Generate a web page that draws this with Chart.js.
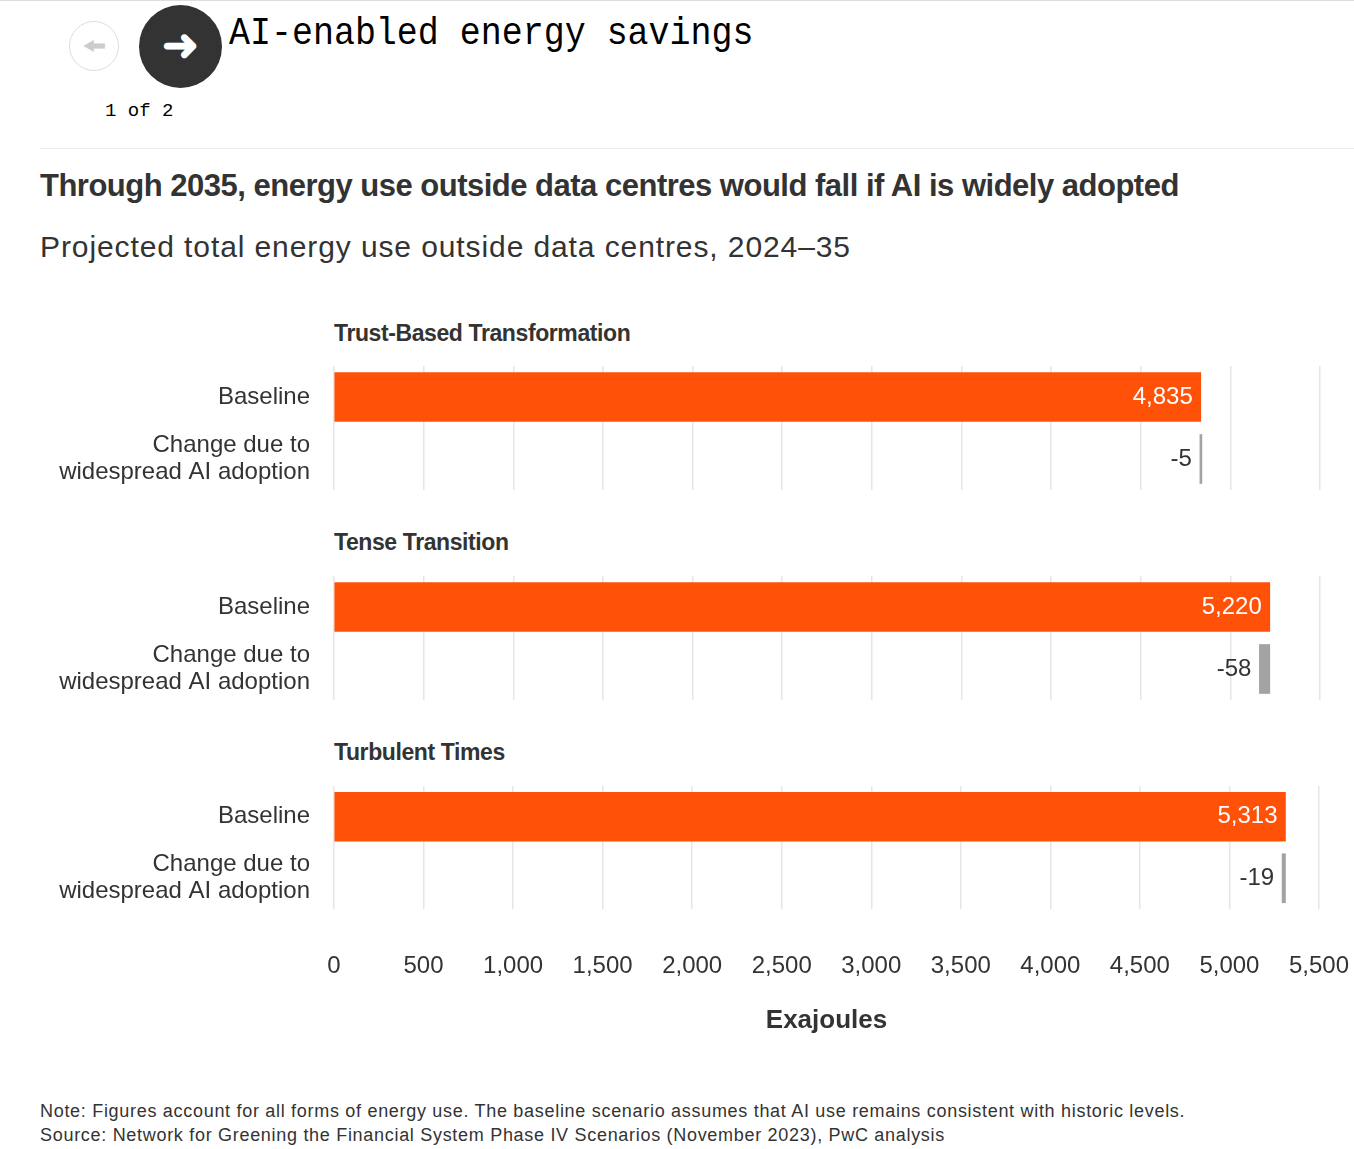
<!DOCTYPE html>
<html><head><meta charset="utf-8">
<script src="https://cdn.jsdelivr.net/npm/chart.js@4"></script>
<style>
body{margin:0;background:#fff;font-family:"Liberation Sans",Arial,sans-serif;width:1354px;height:1149px;position:relative;overflow:hidden}
.abs{position:absolute}
.topline{left:0;top:0;width:1354px;border-top:1px solid #ddd}
.prev{left:69px;top:21px;width:48px;height:48px;border:1px solid #ddd;border-radius:50%;color:#ccc;font-size:26px;text-align:center;line-height:48px;font-weight:bold}
.next{left:139px;top:5px;width:83px;height:83px;border-radius:50%;background:#333;color:#fff;font-size:44px;text-align:center;line-height:80px;font-weight:bold}
.hd{left:229px;top:12px;font-family:"Liberation Mono",monospace;font-size:38px;color:#000;transform:scaleX(0.92);transform-origin:left}
.pg{left:105px;top:100px;font-family:"Liberation Mono",monospace;font-size:19px}
.sep{left:40px;top:148px;width:1314px;border-top:1px solid #eee}
.t1{left:40px;top:168px;font-size:31px;font-weight:bold;color:#333;letter-spacing:-0.5px}
.t2{left:40px;top:230px;font-size:30px;color:#333;letter-spacing:0.9px}
.pt{left:334px;font-size:23px;font-weight:bold;color:#333;letter-spacing:-0.4px}
.note{left:40px;top:1099px;font-size:18px;color:#333;line-height:24px;letter-spacing:0.7px}
canvas{position:absolute;left:0}
</style></head><body>
<div class="abs topline"></div>
<div class="abs prev">&#129048;</div>
<div class="abs next">&#10140;</div>
<div class="abs hd">AI-enabled energy savings</div>
<div class="abs pg">1 of 2</div>
<div class="abs sep"></div>
<div class="abs t1">Through 2035, energy use outside data centres would fall if AI is widely adopted</div>
<div class="abs t2">Projected total energy use outside data centres, 2024–35</div>
<div class="abs pt" style="top:320px">Trust-Based Transformation</div>
<div class="abs pt" style="top:529px">Tense Transition</div>
<div class="abs pt" style="top:739px">Turbulent Times</div>
<canvas id="c0" width="1354" height="124" style="top:366px"></canvas>
<canvas id="c1" width="1354" height="124" style="top:576px"></canvas>
<canvas id="c2" width="1392" height="254" style="top:786px"></canvas>
<div class="abs note">Note: Figures account for all forms of energy use. The baseline scenario assumes that AI use remains consistent with historic levels.<br>Source: Network for Greening the Financial System Phase IV Scenarios (November 2023), PwC analysis</div>
<script>
const rowLabels = [['Baseline'], ['Change due to', 'widespread AI adoption']];
const scenarios = ['Trust-Based Transformation', 'Tense Transition', 'Turbulent Times'];
const baseline = [4835, 5220, 5313];
const change = [-5, -58, -19];
const xTicks = [0, 500, 1000, 1500, 2000, 2500, 3000, 3500, 4000, 4500, 5000, 5500];

const labelPlugin = {
  id: 'vals',
  afterDatasetsDraw(chart) {
    const meta = chart.getDatasetMeta(0);
    const ctx = chart.ctx;
    const i = chart.options.idx;
    ctx.save();
    ctx.font = '24px "Liberation Sans", Arial';
    ctx.textBaseline = 'middle';
    ctx.textAlign = 'right';
    const b = meta.data[0];
    ctx.fillStyle = '#fff';
    ctx.fillText(baseline[i].toLocaleString('en-US'), b.x - 8, b.y);
    const c = meta.data[1];
    ctx.fillStyle = '#333';
    ctx.fillText(String(change[i]), Math.min(c.x, c.base) - 8, c.y);
    // row labels
    const ys = chart.scales.y;
    rowLabels.forEach((lines, k) => {
      const y0 = ys.getPixelForValue(k) - (lines.length - 1) * 27 / 2;
      lines.forEach((t, j) => ctx.fillText(t, 310, y0 + j * 27));
    });
    ctx.restore();
  }
};

const font = {size: 24, family: '"Liberation Sans", Arial'};

scenarios.forEach((s, i) => {
  const last = i === 2;
  new Chart(document.getElementById('c' + i), {
    type: 'bar',
    data: {
      labels: rowLabels.map(l => l.join(' ')),
      datasets: [{
        data: [[0, baseline[i]], [baseline[i] + change[i], baseline[i]]],
        backgroundColor: ['#FF5108', '#a3a3a3'],
        barThickness: 49,
        minBarLength: 2
      }]
    },
    options: {
      idx: i,
      indexAxis: 'y',
      responsive: false,
      devicePixelRatio: 1,
      animation: false,
      layout: {padding: {right: last ? 4 : 34, top: 0, bottom: 0, left: 0}},
      plugins: {legend: {display: false}, tooltip: {enabled: false}},
      scales: {
        x: {
          min: 0, max: 5500,
          afterBuildTicks: ax => { ax.ticks = xTicks.map(v => ({value: v})); },
          afterFit: ax => { ax.height = last ? 131 : 0; },
          grid: {color: '#e6e6e6', drawTicks: false, lineWidth: 1.5},
          border: {display: false},
          ticks: {display: last, color: '#333', padding: 43, maxRotation: 0, font: font},
          title: {display: last, text: 'Exajoules', color: '#333', padding: {top: 30}, font: {size: 26, weight: 'bold', family: '"Liberation Sans", Arial'}}
        },
        y: {
          afterFit: ax => { ax.width = 334; },
          grid: {display: false},
          border: {display: false},
          ticks: {display: false}
        }
      }
    },
    plugins: [labelPlugin]
  });
});
</script>
</body></html>
